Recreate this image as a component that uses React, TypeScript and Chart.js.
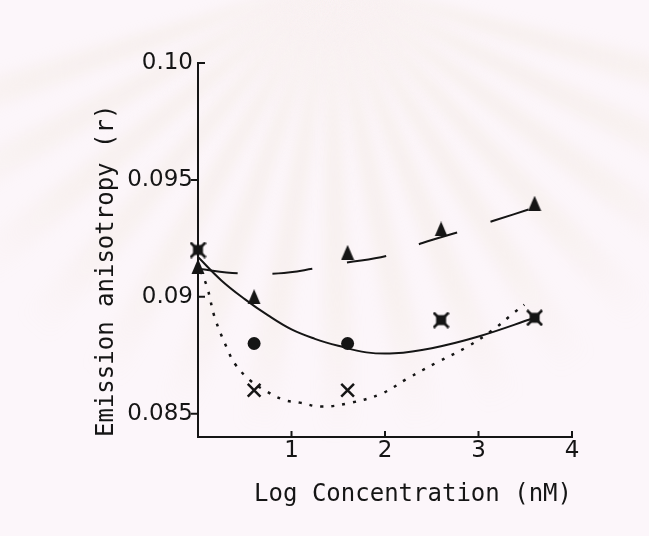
import React, { useEffect, useRef } from "react";
import { Chart, registerables } from "chart.js";

Chart.register(...registerables);

// Measured anisotropy values (r) against log concentration (nM)
const triangleConc = [0, 0.6, 1.6, 2.6, 3.6];
const triangleR = [0.0913, 0.09, 0.0919, 0.0929, 0.094];

const circleConc = [0.6, 1.6];
const circleR = [0.088, 0.088];

const crossConc = [0.6, 1.6];
const crossR = [0.086, 0.086];

const starConc = [0, 2.6, 3.6];
const starR = [0.092, 0.089, 0.0891];

// Hand-fitted trend curves
const dashedFitConc = [0, 0.43, 0.86, 1.23, 1.57, 2.02, 2.4, 2.86, 3.16, 3.59];
const dashedFitR = [0.0912, 0.091, 0.091, 0.0912, 0.09145, 0.09175, 0.0923, 0.09286, 0.09325, 0.0938];

const solidFitConc = [0, 0.25, 0.5, 0.75, 1.0, 1.25, 1.5, 1.8, 2.1, 2.5, 3.0, 3.6];
const solidFitR = [0.0917, 0.0907, 0.0899, 0.0892, 0.0886, 0.0882, 0.0879, 0.08762, 0.08758, 0.0878, 0.0883, 0.0891];

const dottedFitConc = [0.03, 0.1, 0.18, 0.31, 0.4, 0.55, 0.7, 0.91, 1.09, 1.32, 1.64, 1.96, 2.24, 2.56, 2.88, 3.16, 3.38, 3.49];
const dottedFitR = [0.0911, 0.09038, 0.0891, 0.0878, 0.0871, 0.08645, 0.08603, 0.0856, 0.08547, 0.0853, 0.08547, 0.08585, 0.0865, 0.0872, 0.08786, 0.0886, 0.08932, 0.08966];

const xTicks = [1, 2, 3, 4];
const xTickLabels = ["1", "2", "3", "4"];
const yTicks = [0.085, 0.09, 0.095, 0.1];
const yTickLabels = ["0.085", "0.09", "0.095", "0.10"];
// -1: tick mark points outward (left), 1: inward (right)
const yTickSides = [-1, 1, -1, 1];

const INK = "#151515";
const PAPER = "#fcf6fa";
const titleFont = { family: "'DejaVu Sans Mono', monospace", size: 24 };
const tickFont = { family: "'DejaVu Sans', sans-serif", size: 23 };

const pairs = (xs: number[], ys: number[]) => xs.map((x, i) => ({ x, y: ys[i] }));

function makeTriangle(): HTMLCanvasElement {
  const c = document.createElement("canvas");
  c.width = 14;
  c.height = 15;
  const g = c.getContext("2d")!;
  g.fillStyle = INK;
  g.beginPath();
  g.moveTo(7, 0);
  g.lineTo(13.5, 15);
  g.lineTo(0.5, 15);
  g.closePath();
  g.fill();
  return c;
}

function makeStarSquare(): HTMLCanvasElement {
  const c = document.createElement("canvas");
  c.width = 17;
  c.height = 17;
  const g = c.getContext("2d")!;
  g.fillStyle = INK;
  g.fillRect(3.5, 3.5, 10, 10);
  g.strokeStyle = INK;
  g.lineWidth = 2.6;
  g.beginPath();
  g.moveTo(1, 1);
  g.lineTo(16, 16);
  g.moveTo(16, 1);
  g.lineTo(1, 16);
  g.stroke();
  return c;
}

// Paper tone with the faint ray pattern printed behind the plot
const paperBackdrop = {
  id: "paperBackdrop",
  beforeDraw(chart: any) {
    const { ctx, width, height } = chart;
    ctx.save();
    ctx.fillStyle = PAPER;
    ctx.fillRect(0, 0, width, height);
    const cx = 330;
    const cy = -20;
    const grad = ctx.createRadialGradient(cx, cy, 60, cx, cy, 460);
    grad.addColorStop(0, "rgba(232, 220, 196, 0.30)");
    grad.addColorStop(0.7, "rgba(232, 220, 196, 0.16)");
    grad.addColorStop(1, "rgba(232, 220, 196, 0)");
    ctx.fillStyle = grad;
    ctx.filter = "blur(7px)";
    const rays = 15;
    const start = (12 * Math.PI) / 180;
    const end = (168 * Math.PI) / 180;
    const step = (end - start) / rays;
    for (let i = 0; i < rays; i++) {
      const a0 = start + i * step + step * 0.15;
      const a1 = start + i * step + step * 0.6;
      ctx.beginPath();
      ctx.moveTo(cx, cy);
      ctx.arc(cx, cy, 470, a0, a1);
      ctx.closePath();
      ctx.fill();
    }
    ctx.restore();
  },
};

const axisTickMarks = {
  id: "axisTickMarks",
  afterDraw(chart: any) {
    const { ctx, chartArea, scales } = chart;
    const xs = scales.x;
    const ys = scales.y;
    ctx.save();
    ctx.strokeStyle = INK;
    ctx.lineWidth = 2;
    ctx.beginPath();
    xTicks.forEach((v) => {
      const px = xs.getPixelForValue(v);
      ctx.moveTo(px, chartArea.bottom);
      ctx.lineTo(px, chartArea.bottom - 6);
    });
    yTicks.forEach((v, i) => {
      const py = ys.getPixelForValue(v);
      ctx.moveTo(chartArea.left, py);
      ctx.lineTo(chartArea.left + yTickSides[i] * 7, py);
    });
    ctx.stroke();
    ctx.restore();
  },
};

export default function App() {
  const canvasRef = useRef<HTMLCanvasElement | null>(null);

  useEffect(() => {
    if (!canvasRef.current) return;
    const tri = makeTriangle();
    const star = makeStarSquare();

    const fitLine = {
      showLine: true,
      pointRadius: 0,
      borderColor: INK,
      tension: 0.4,
      clip: false as any,
    };

    const chart = new Chart(canvasRef.current, {
      type: "scatter",
      data: {
        datasets: [
          {
            label: "triangles",
            data: pairs(triangleConc, triangleR),
            pointStyle: tri as any,
            showLine: false,
            clip: false as any,
          },
          {
            label: "circles",
            data: pairs(circleConc, circleR),
            pointStyle: "circle",
            pointRadius: 6.5,
            backgroundColor: INK,
            borderColor: INK,
            borderWidth: 0,
            showLine: false,
            clip: false as any,
          },
          {
            label: "crosses",
            data: pairs(crossConc, crossR),
            pointStyle: "crossRot",
            pointRadius: 9,
            borderColor: INK,
            borderWidth: 2.5,
            showLine: false,
            clip: false as any,
          },
          {
            label: "starred squares",
            data: pairs(starConc, starR),
            pointStyle: star as any,
            showLine: false,
            clip: false as any,
          },
          {
            ...fitLine,
            label: "dashed fit",
            data: pairs(dashedFitConc, dashedFitR),
            borderWidth: 2,
            borderDash: [40, 35],
          },
          {
            ...fitLine,
            label: "solid fit",
            data: pairs(solidFitConc, solidFitR),
            borderWidth: 2,
          },
          {
            ...fitLine,
            label: "dotted fit",
            data: pairs(dottedFitConc, dottedFitR),
            borderWidth: 2.5,
            borderDash: [3, 8],
          },
        ],
      },
      options: {
        animation: false,
        responsive: true,
        maintainAspectRatio: false,
        devicePixelRatio: 1,
        layout: { padding: { left: 92, top: 63, right: 77, bottom: 27 } },
        plugins: {
          legend: { display: false },
          tooltip: { enabled: false },
        },
        scales: {
          x: {
            type: "linear",
            position: "bottom",
            min: 0,
            max: 4,
            afterBuildTicks: (s: any) => {
              s.ticks = xTicks.map((v) => ({ value: v }));
            },
            afterFit: (s: any) => {
              s.height = 72;
            },
            ticks: {
              autoSkip: false,
              maxRotation: 0,
              padding: 0,
              color: INK,
              font: tickFont,
              callback: (_v: any, i: number) => xTickLabels[i],
            },
            grid: { display: false, drawTicks: false },
            border: { display: true, color: INK, width: 2 },
            title: {
              display: true,
              text: "Log Concentration (nM)",
              align: "end",
              color: INK,
              font: titleFont,
              padding: 0,
            },
          },
          y: {
            type: "linear",
            position: "left",
            min: 0.084,
            max: 0.1,
            afterBuildTicks: (s: any) => {
              s.ticks = yTicks.map((v) => ({ value: v }));
            },
            afterFit: (s: any) => {
              s.width = 106;
            },
            ticks: {
              autoSkip: false,
              padding: 5,
              color: INK,
              font: tickFont,
              callback: (_v: any, i: number) => yTickLabels[i],
            },
            grid: { display: false, drawTicks: false },
            border: { display: true, color: INK, width: 2 },
            title: {
              display: true,
              text: "Emission anisotropy (r)",
              align: "start",
              color: INK,
              font: titleFont,
              padding: 0,
            },
          },
        },
      },
      plugins: [paperBackdrop, axisTickMarks],
    });

    return () => chart.destroy();
  }, []);

  return (
    <div
      style={{
        position: "absolute",
        left: 0,
        top: 0,
        width: 649,
        height: 536,
        background: PAPER,
      }}
    >
      <canvas ref={canvasRef} />
    </div>
  );
}
